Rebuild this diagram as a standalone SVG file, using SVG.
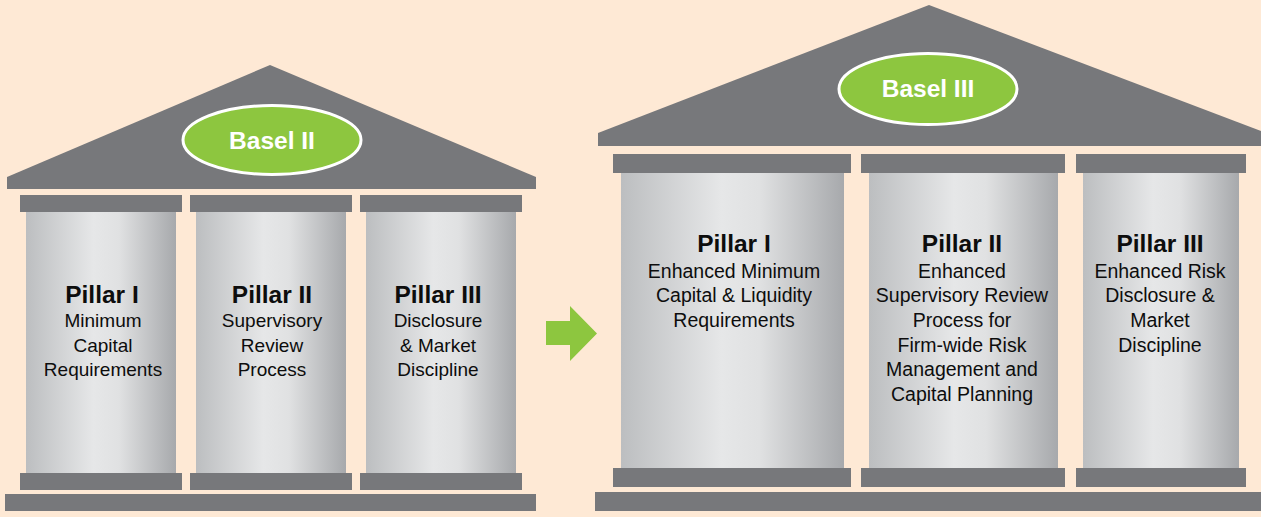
<svg xmlns="http://www.w3.org/2000/svg" width="1261" height="517" viewBox="0 0 1261 517">
  <defs>
    <linearGradient id="shaft" x1="0" y1="0" x2="1" y2="0">
      <stop offset="0" stop-color="#bcbec0"/>
      <stop offset="0.45" stop-color="#e6e7e8"/>
      <stop offset="0.62" stop-color="#e0e1e2"/>
      <stop offset="1" stop-color="#a7a9ac"/>
    </linearGradient>
    <style>
      .stone { fill: #77787b; }
      .shaft { fill: url(#shaft); }
      .badge { fill: #8dc63f; stroke: #ffffff; stroke-width: 3; }
      .badge-text { font-family: "Liberation Sans", Arial, sans-serif; font-weight: bold; font-size: 24.5px; fill: #ffffff; text-anchor: middle; }
      .title { font-family: "Liberation Sans", Arial, sans-serif; font-weight: bold; font-size: 24.5px; fill: #0d0d0d; text-anchor: middle; }
      .body { font-family: "Liberation Sans", Arial, sans-serif; font-size: 19px; fill: #0d0d0d; text-anchor: middle; }
      .body-wide { font-size: 19.5px; }
      .arrow { fill: #8dc63f; }
    </style>
  </defs>

  <rect width="1261" height="517" fill="#fee9d5"/>

  <!-- Basel II temple -->
  <g id="basel2-roof">
    <polygon class="stone" points="7,177 270,65 536,177 536,189 7,189"/>
    <ellipse class="badge" cx="272" cy="140" rx="89" ry="34.5"/>
    <text class="badge-text" x="272" y="149">Basel II</text>
  </g>

  <g id="basel2-pillar1">
    <rect class="stone" x="20" y="195" width="162" height="17"/>
    <rect class="shaft" x="26" y="212" width="150" height="261"/>
    <rect class="stone" x="20" y="473" width="162" height="17"/>
    <text class="title" x="102" y="303">Pillar I</text>
    <text class="body" x="103" y="327">Minimum</text>
    <text class="body" x="103" y="351.5">Capital</text>
    <text class="body" x="103" y="376">Requirements</text>
  </g>

  <g id="basel2-pillar2">
    <rect class="stone" x="190" y="195" width="162" height="17"/>
    <rect class="shaft" x="196" y="212" width="150" height="261"/>
    <rect class="stone" x="190" y="473" width="162" height="17"/>
    <text class="title" x="272" y="303">Pillar II</text>
    <text class="body" x="272" y="327">Supervisory</text>
    <text class="body" x="272" y="351.5">Review</text>
    <text class="body" x="272" y="376">Process</text>
  </g>

  <g id="basel2-pillar3">
    <rect class="stone" x="360" y="195" width="162" height="17"/>
    <rect class="shaft" x="366" y="212" width="150" height="261"/>
    <rect class="stone" x="360" y="473" width="162" height="17"/>
    <text class="title" x="438" y="303">Pillar III</text>
    <text class="body" x="438" y="327">Disclosure</text>
    <text class="body" x="438" y="351.5">&amp; Market</text>
    <text class="body" x="438" y="376">Discipline</text>
  </g>

  <g id="basel2-plinth">
    <rect class="stone" x="5" y="494" width="531" height="17"/>
  </g>

  <!-- transition arrow -->
  <g id="connectors">
    <polygon class="arrow" points="546,321 570,321 570,306 597,333.5 570,361 570,345 546,345"/>
  </g>

  <!-- Basel III temple -->
  <g id="basel3-roof">
    <polygon class="stone" points="598,133 929,5 1261,131 1261,146 598,146"/>
    <ellipse class="badge" cx="928" cy="89" rx="89" ry="35.5"/>
    <text class="badge-text" x="928" y="97">Basel III</text>
  </g>

  <g id="basel3-pillar1">
    <rect class="stone" x="613" y="154" width="238" height="19"/>
    <rect class="shaft" x="621" y="173" width="223" height="295"/>
    <rect class="stone" x="613" y="468" width="238" height="19"/>
    <text class="title" x="734" y="252">Pillar I</text>
    <text class="body body-wide" x="734" y="277.5">Enhanced Minimum</text>
    <text class="body body-wide" x="734" y="302.2">Capital &amp; Liquidity</text>
    <text class="body body-wide" x="734" y="326.9">Requirements</text>
  </g>

  <g id="basel3-pillar2">
    <rect class="stone" x="861" y="154" width="204" height="19"/>
    <rect class="shaft" x="869" y="173" width="189" height="295"/>
    <rect class="stone" x="861" y="468" width="204" height="19"/>
    <text class="title" x="962" y="252">Pillar II</text>
    <text class="body body-wide" x="962" y="277.5">Enhanced</text>
    <text class="body body-wide" x="962" y="302.2">Supervisory Review</text>
    <text class="body body-wide" x="962" y="326.9">Process for</text>
    <text class="body body-wide" x="962" y="351.6">Firm-wide Risk</text>
    <text class="body body-wide" x="962" y="376.3">Management and</text>
    <text class="body body-wide" x="962" y="401">Capital Planning</text>
  </g>

  <g id="basel3-pillar3">
    <rect class="stone" x="1076" y="154" width="170" height="19"/>
    <rect class="shaft" x="1083" y="173" width="156" height="295"/>
    <rect class="stone" x="1076" y="468" width="170" height="19"/>
    <text class="title" x="1160" y="252">Pillar III</text>
    <text class="body body-wide" x="1160" y="277.5">Enhanced Risk</text>
    <text class="body body-wide" x="1160" y="302.2">Disclosure &amp;</text>
    <text class="body body-wide" x="1160" y="326.9">Market</text>
    <text class="body body-wide" x="1160" y="351.6">Discipline</text>
  </g>

  <g id="basel3-plinth">
    <rect class="stone" x="595" y="492" width="666" height="19"/>
  </g>
</svg>
